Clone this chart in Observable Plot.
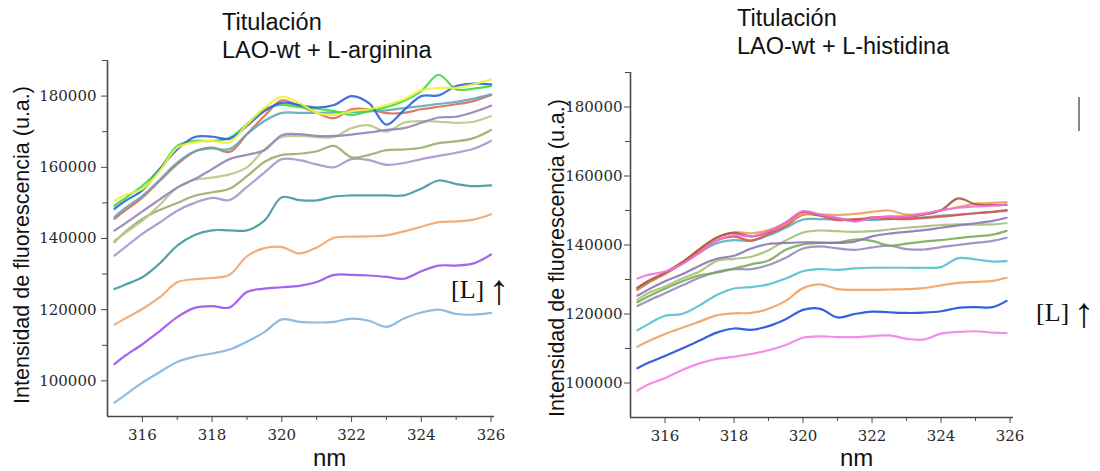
<!DOCTYPE html>
<html>
<head>
<meta charset="utf-8">
<script src="https://cdn.jsdelivr.net/npm/d3@7"></script>
<script src="https://cdn.jsdelivr.net/npm/@observablehq/plot@0.6"></script>
<style>
  body { margin: 0; background: #fff; }
  #fig { position: relative; width: 1100px; height: 471px; overflow: hidden; background: #fff;
         font-family: "Liberation Sans", Arial, sans-serif; color: #111; }
  .panel { position: absolute; top: 0; }
  .title { position: absolute; font-size: 23.5px; line-height: 28px; white-space: nowrap; }
  .ylab { position: absolute; width: 400px; text-align: center; font-size: 21.5px; line-height: 24px;
          transform: rotate(-90deg); white-space: nowrap; }
  .xlab { position: absolute; font-size: 24px; line-height: 26px; }
  .note { position: absolute; display: flex; align-items: center; height: 34px;
          font-family: "Liberation Serif", "DejaVu Serif", serif; font-size: 26px; white-space: nowrap; }
  .note .arrow { font-size: 42px; margin-left: 4px; line-height: 34px; }
  .mark { position: absolute; width: 1.5px; background: #888; }
</style>
</head>
<body>
<div id="fig"></div>
<script>
// Wavelengths (nm) at which each emission spectrum is sampled
const argNm = [315.2, 315.5, 316, 316.5, 317, 317.5, 318, 318.5, 319, 319.5, 320, 320.5, 321, 321.5, 322, 322.5, 323, 323.5, 324, 324.5, 325, 325.5, 326];
const hisNm = [315.2, 315.5, 316, 316.5, 317, 317.5, 318, 318.5, 319, 319.5, 320, 320.5, 321, 321.5, 322, 322.5, 323, 323.5, 324, 324.5, 325, 325.5, 325.9];

// LAO-wt + L-arginina: fluorescence intensity (u.a.), lowest [L] first
const argLightBlue  = [93900, 96000, 99500, 102500, 105300, 106800, 107700, 108800, 111000, 113700, 117300, 116600, 116400, 116600, 117500, 116900, 115200, 117500, 119200, 120000, 118800, 118600, 119100];
const argViolet     = [104700, 107000, 110300, 114000, 117900, 120500, 121000, 120600, 125000, 125900, 126300, 126700, 127800, 129800, 129800, 129600, 129200, 128700, 130800, 132400, 132400, 133000, 135500];
const argOrange     = [115800, 117500, 120200, 123500, 127700, 128600, 128900, 129800, 135000, 137300, 137600, 135800, 137500, 140200, 140500, 140600, 140900, 142000, 143300, 144600, 144800, 145300, 146800];
const argDarkTeal   = [125800, 127000, 129100, 133000, 138000, 141000, 142300, 142300, 142300, 145000, 151600, 150800, 150700, 151800, 152100, 152100, 152100, 152100, 154000, 156300, 155300, 154700, 154900];
const argLavender   = [135200, 137500, 141300, 144500, 147800, 150000, 151400, 150800, 154500, 158500, 162300, 162000, 160800, 160000, 162300, 162000, 160700, 161200, 162300, 163200, 164100, 165200, 167400];
const argOliveGreen = [139000, 141800, 145500, 148000, 150000, 152000, 153000, 154000, 157500, 161500, 163500, 163800, 164500, 166000, 162800, 163500, 164800, 165000, 165500, 166800, 167300, 168200, 170500];
const argOliveLight = [139400, 141500, 145000, 149500, 154300, 156500, 157100, 158000, 160000, 165000, 168500, 168800, 168500, 168500, 171000, 171800, 170000, 172500, 173000, 172800, 172500, 172800, 174400];
const argPurple     = [142200, 144200, 147600, 151000, 154300, 156700, 159500, 162300, 163500, 164800, 169000, 169300, 168800, 168800, 169200, 169800, 170500, 171000, 172500, 174000, 174200, 175500, 177300];
const argRed        = [145500, 147800, 151500, 156200, 160900, 164400, 165500, 164300, 169300, 174400, 178800, 177200, 175300, 173800, 176300, 176300, 175200, 175300, 176300, 177000, 177700, 178600, 180300];
const argLightTeal  = [146000, 148500, 152000, 156500, 161300, 164500, 165300, 165100, 169300, 173000, 175300, 175300, 175300, 175400, 175500, 175700, 176000, 176600, 177200, 177800, 178400, 179300, 180500];
const argGreen      = [149200, 151300, 154800, 159500, 166000, 167400, 167400, 168300, 172100, 176300, 177500, 176900, 176500, 175800, 174700, 175800, 176900, 178600, 181400, 186000, 181900, 182100, 182800];
const argBlue       = [148300, 150500, 153500, 159500, 165000, 168500, 168600, 168000, 171600, 175800, 178100, 177500, 176800, 177500, 180000, 178000, 172000, 176000, 180000, 180200, 182800, 183500, 183300];
const argYellow     = [150600, 152200, 153900, 159000, 165500, 167000, 167400, 167000, 172000, 176700, 179800, 178100, 175300, 174700, 175800, 176300, 177500, 179100, 181600, 182300, 182300, 183300, 184700];

// LAO-wt + L-histidina: fluorescence intensity (u.a.), lowest [L] first
const hisPinkLow    = [97800, 99500, 101400, 103800, 105700, 107000, 107600, 108400, 109500, 111000, 113100, 113500, 113300, 113300, 113600, 113800, 112800, 112600, 114300, 114800, 115000, 114600, 114500];
const hisBlue       = [104300, 105800, 107800, 110000, 112300, 114600, 115800, 115400, 116500, 118500, 121200, 121500, 119000, 120000, 120700, 120500, 120300, 120400, 120800, 121800, 122000, 122000, 123800];
const hisOrange     = [110500, 112000, 114200, 116000, 117800, 119600, 120200, 120300, 121500, 123800, 127500, 128600, 127200, 127000, 127000, 127100, 127200, 127500, 128300, 129000, 129300, 129600, 130500];
const hisCyan       = [115300, 117000, 119500, 120000, 122500, 125500, 127400, 127800, 128600, 130300, 132400, 133000, 132800, 133200, 133400, 133400, 133400, 133400, 133600, 136200, 135800, 135200, 135300];
const hisLavender   = [122300, 123800, 126000, 128300, 130500, 132200, 133000, 133000, 134200, 136300, 139000, 139600, 139000, 138600, 139300, 139800, 138800, 138700, 139400, 140000, 140600, 141200, 142100];
const hisOliveGreen = [123400, 125000, 127300, 129500, 131200, 132000, 133200, 134400, 135500, 138600, 140200, 140600, 140700, 141600, 141200, 139800, 140400, 141000, 141400, 142000, 142500, 143000, 144100];
const hisOliveLight = [124100, 126000, 128000, 130300, 132300, 135400, 136000, 136600, 138500, 141300, 143600, 144200, 144000, 143800, 144000, 144500, 145000, 145400, 145800, 146000, 145900, 146000, 146300];
const hisPurple     = [125300, 127000, 129500, 131500, 134000, 136000, 136900, 139000, 140300, 140600, 140800, 140700, 140600, 141000, 142500, 143300, 143800, 144300, 145000, 145700, 146300, 147000, 147900];
const hisTeal       = [127200, 129000, 131800, 134700, 137800, 140500, 141400, 141200, 142800, 145000, 147400, 147500, 147400, 147300, 147300, 147500, 147700, 148000, 148500, 148800, 149200, 149600, 149900];
const hisRed        = [127000, 129000, 131600, 134600, 138000, 141300, 142400, 141300, 143200, 145500, 148800, 148500, 147200, 147500, 147700, 147600, 147500, 147800, 148200, 148700, 149200, 149600, 150100];
const hisOrangeHigh = [127200, 129200, 131800, 135000, 138700, 142000, 143700, 143400, 144300, 146200, 149000, 148900, 148700, 149000, 149600, 150000, 148800, 149200, 150000, 151000, 152000, 152200, 152400];
const hisBrown      = [127600, 129500, 132000, 135000, 138800, 142200, 143500, 142500, 143800, 146500, 149600, 148600, 147800, 147000, 148000, 148200, 148200, 148800, 150100, 153500, 151800, 151600, 151600];
const hisPinkTop    = [130300, 131300, 132300, 134500, 137700, 141300, 142900, 142500, 144000, 146500, 149800, 148800, 147800, 146800, 147800, 148200, 148300, 149000, 150100, 150800, 151200, 151400, 151800];

// Axis ticks
const yMajor = [100000, 120000, 140000, 160000, 180000];
const yMinor = [110000, 130000, 150000, 170000, 190000];
const xMajor = [316, 318, 320, 322, 324, 326];
const xMinor = [317, 319, 321, 323, 325];

// Spectra in drawing order, with their stroke colours kept apart
const argSeries = [argLightBlue, argViolet, argOrange, argDarkTeal, argLavender, argOliveGreen, argOliveLight, argPurple, argRed, argLightTeal, argGreen, argBlue, argYellow];
const argPalette = ["#82b5df", "#9b52ee", "#f2a56b", "#3f98a1", "#ac93cc", "#98ae6c", "#b9c686", "#9781b7", "#da6a57", "#5ea9b8", "#3bdb3f", "#2f60e0", "#f0f03c"];
const hisSeries = [hisPinkLow, hisBlue, hisOrange, hisCyan, hisLavender, hisOliveGreen, hisOliveLight, hisPurple, hisTeal, hisRed, hisOrangeHigh, hisBrown, hisPinkTop];
const hisPalette = ["#f37fe9", "#1f4fdc", "#f0a262", "#57bfd0", "#9a87c0", "#7eab57", "#a3c273", "#8c76b4", "#54b0bf", "#e0544c", "#e9a156", "#a8573a", "#f46ee0"];

function toRows(nm, series, palette) {
  return series.flatMap((values, k) =>
    values.map((v, i) => ({ nm: nm[i], value: v, spectrum: k, color: palette[k] })));
}

function spectraPanel({ rows, width, height, marginLeft, marginRight, marginTop, marginBottom, xDomain, yDomain, yPad }) {
  const axisColor = "#4a4a4a";
  return Plot.plot({
    width, height, marginLeft, marginRight, marginTop, marginBottom,
    x: { domain: xDomain },
    y: { domain: yDomain },
    color: { type: "identity" },
    style: { background: "transparent", fontFamily: "'DejaVu Serif', serif", fontSize: "15px", color: "#2a2a2a", overflow: "visible" },
    marks: [
      Plot.axisY({ ticks: yMajor, tickSize: 6, tickPadding: yPad, tickFormat: d3.format("d"), label: null, stroke: axisColor }),
      Plot.axisY({ ticks: yMinor, tickSize: 5, tickFormat: () => "", label: null, stroke: axisColor }),
      Plot.axisX({ ticks: xMajor, tickSize: 6, tickPadding: 7, tickFormat: d3.format("d"), label: null, stroke: axisColor }),
      Plot.axisX({ ticks: xMinor, tickSize: 4, tickFormat: () => "", label: null, stroke: axisColor }),
      Plot.ruleX([xDomain[0]], { stroke: axisColor, strokeWidth: 1.6 }),
      Plot.ruleY([yDomain[0]], { stroke: axisColor, strokeWidth: 1.6 }),
      Plot.line(rows, { x: "nm", y: "value", z: "spectrum", stroke: "color", strokeWidth: 2.2, strokeOpacity: 0.9, curve: "catmull-rom" })
    ]
  });
}

const fig = document.getElementById("fig");

const left = spectraPanel({
  rows: toRows(argNm, argSeries, argPalette),
  width: 550, height: 471, marginLeft: 107, marginRight: 56, marginTop: 60, marginBottom: 55,
  xDomain: [315, 326.1], yDomain: [90000, 190000], yPad: 5
});
left.classList.add("panel");
left.style.left = "0px";
fig.appendChild(left);

const right = spectraPanel({
  rows: toRows(hisNm, hisSeries, hisPalette),
  width: 550, height: 471, marginLeft: 80, marginRight: 87, marginTop: 72, marginBottom: 54,
  xDomain: [315, 326.1], yDomain: [90000, 190000], yPad: 2
});
right.classList.add("panel");
right.style.left = "550px";
fig.appendChild(right);

function addText(cls, text, css) {
  const el = document.createElement("div");
  el.className = cls;
  el.textContent = text;
  Object.assign(el.style, css);
  fig.appendChild(el);
  return el;
}

function addNote(css) {
  const el = document.createElement("div");
  el.className = "note";
  const l = document.createElement("span");
  l.textContent = "[L]";
  const a = document.createElement("span");
  a.className = "arrow";
  a.textContent = "\u2191";
  el.append(l, a);
  Object.assign(el.style, css);
  fig.appendChild(el);
}

// Titles
addText("title", "Titulación", { left: "222px", top: "8px" });
addText("title", "LAO-wt + L-arginina", { left: "222px", top: "36px" });
addText("title", "Titulación", { left: "737px", top: "4px" });
addText("title", "LAO-wt + L-histidina", { left: "737px", top: "32px" });

// Axis titles
addText("ylab", "Intensidad de fluorescencia (u.a.)", { left: (22 - 200) + "px", top: (245 - 12) + "px" });
addText("ylab", "Intensidad de fluorescencia (u.a.)", { left: (557 - 200) + "px", top: (258 - 12) + "px" });
addText("xlab", "nm", { left: "313px", top: "445px" });
addText("xlab", "nm", { left: "840px", top: "445px" });

// Titration direction annotation
addNote({ left: "451px", top: "273px" });
addNote({ left: "1036px", top: "296px" });

// Short vertical stroke at the top right
const bar = document.createElement("div");
bar.className = "mark";
Object.assign(bar.style, { left: "1078px", top: "97px", height: "34px" });
fig.appendChild(bar);
</script>
</body>
</html>
